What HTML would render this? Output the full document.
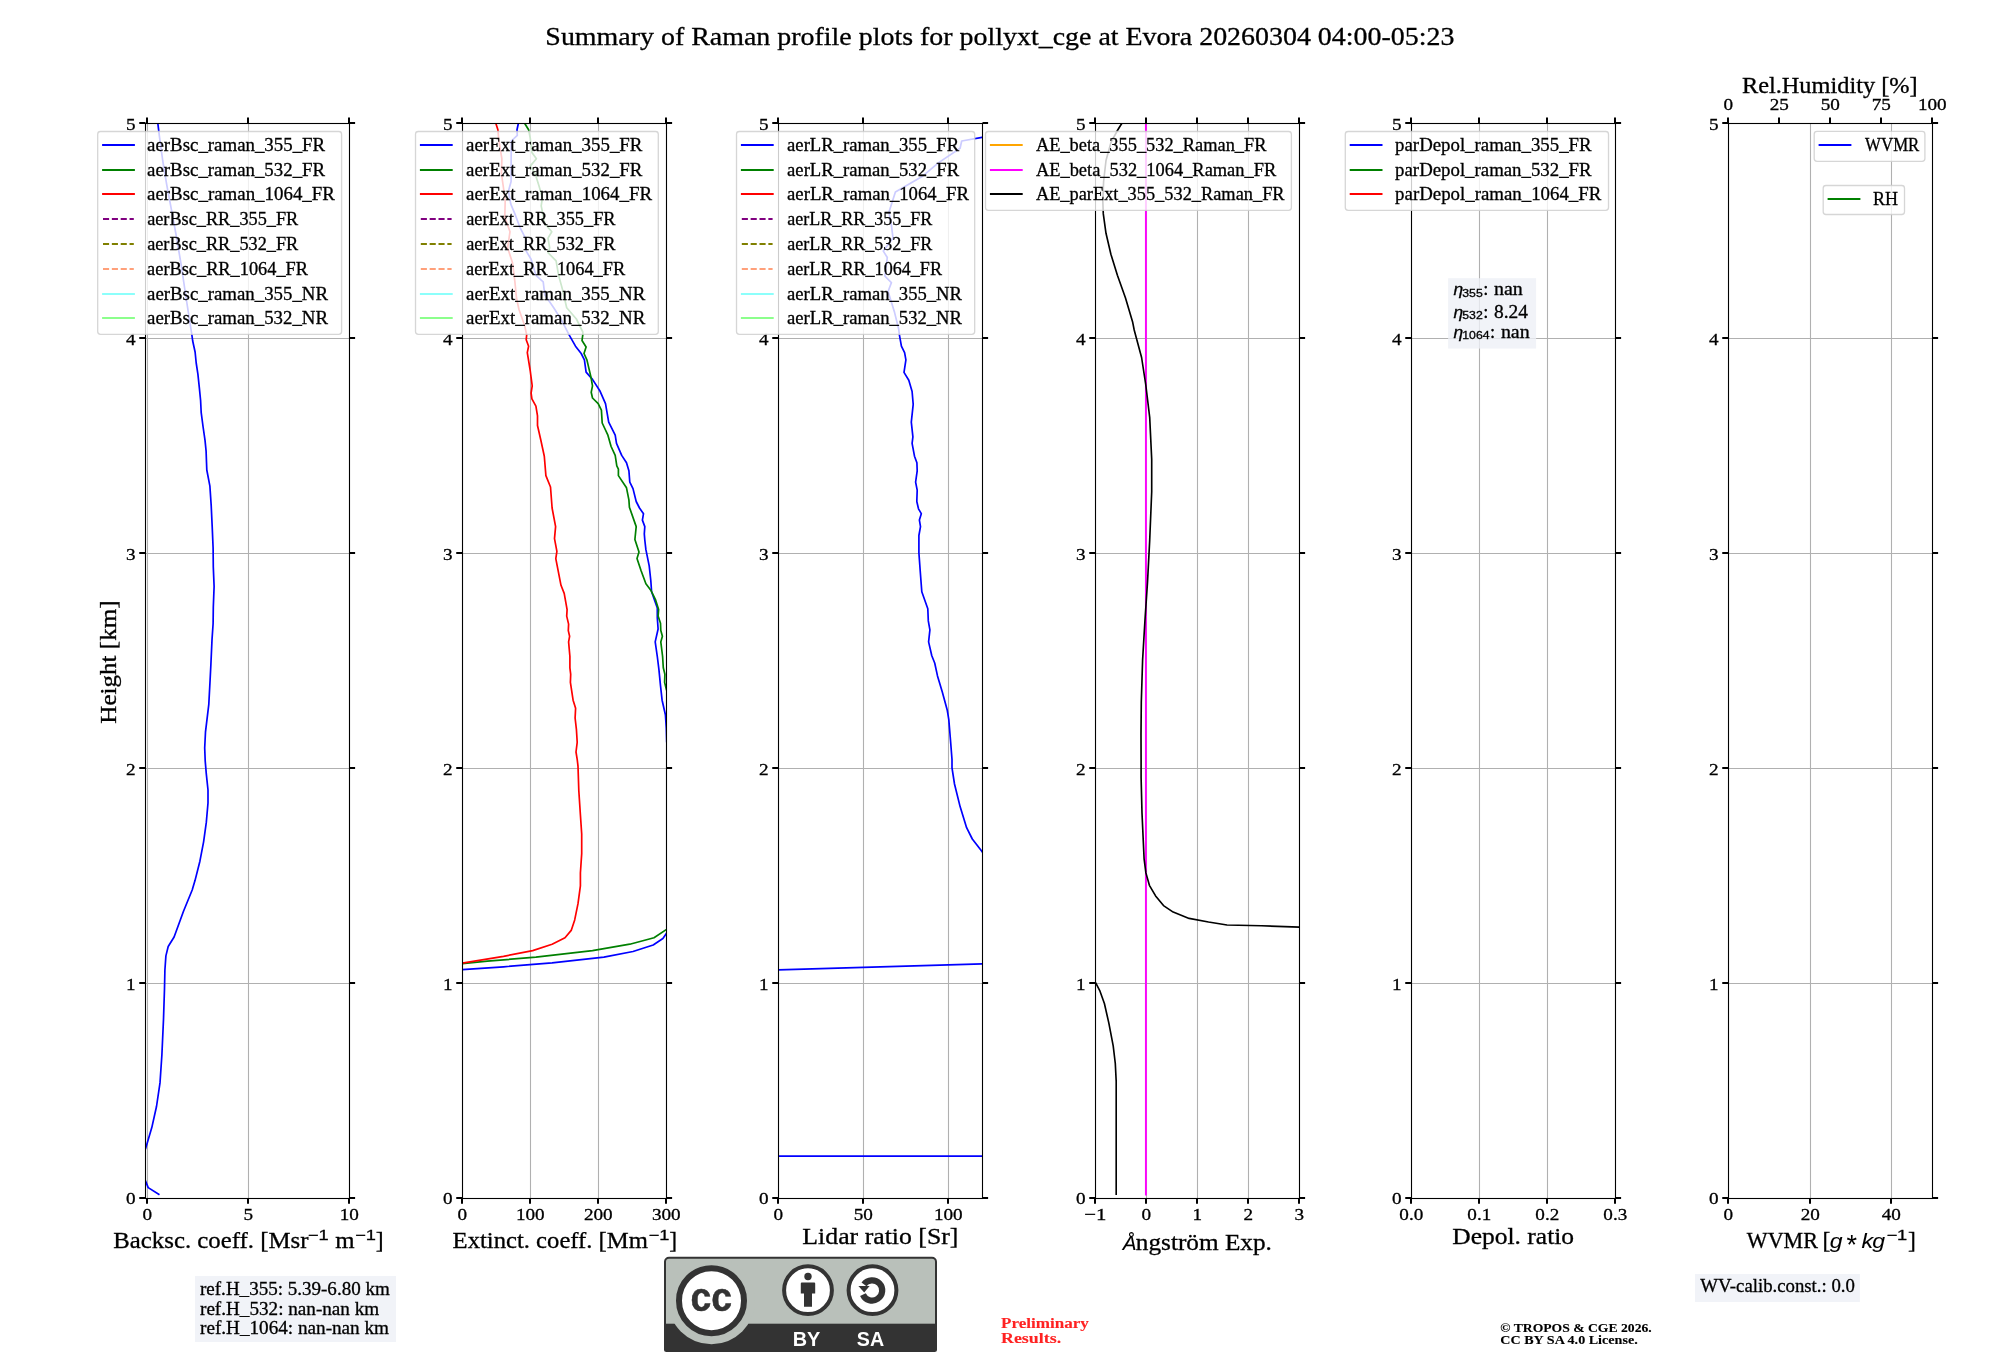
<!DOCTYPE html>
<html><head><meta charset="utf-8"><title>Raman profile summary</title>
<style>html,body{margin:0;padding:0;background:#fff}svg text{white-space:pre}</style></head>
<body>
<svg width="2000" height="1360" viewBox="0 0 2000 1360" style="display:block;will-change:transform">
<rect width="2000" height="1360" fill="#fff"/>
<defs>
<clipPath id="c0"><rect x="145.5" y="123.5" width="204.0" height="1075.0"/></clipPath>
<clipPath id="c1"><rect x="462.5" y="123.5" width="204.0" height="1075.0"/></clipPath>
<clipPath id="c2"><rect x="778.5" y="123.5" width="204.0" height="1075.0"/></clipPath>
<clipPath id="c3"><rect x="1095.5" y="123.5" width="204.0" height="1075.0"/></clipPath>
<clipPath id="c4"><rect x="1411.5" y="123.5" width="204.0" height="1075.0"/></clipPath>
<clipPath id="c5"><rect x="1728.5" y="123.5" width="204.0" height="1075.0"/></clipPath>
</defs>
<text x="545.37" y="44.50" font-family="'Liberation Serif', serif" font-size="25.33" font-weight="normal" font-style="normal" fill="#000" stroke="#000" stroke-width="0.3" textLength="909.06" lengthAdjust="spacingAndGlyphs">Summary of Raman profile plots for pollyxt_cge at Evora 20260304 04:00-05:23</text>
<path d="M147.5,123.5 V1198.5 M248.5,123.5 V1198.5 M349.5,123.5 V1198.5 M145.5,1198.5 H349.5 M145.5,983.5 H349.5 M145.5,768.5 H349.5 M145.5,553.5 H349.5 M145.5,338.5 H349.5 M145.5,123.5 H349.5" stroke="#b0b0b0" stroke-width="1.1" fill="none" clip-path="url(#c0)"/>
<path d="M462.5,123.5 V1198.5 M530.5,123.5 V1198.5 M598.5,123.5 V1198.5 M666.5,123.5 V1198.5 M462.5,1198.5 H666.5 M462.5,983.5 H666.5 M462.5,768.5 H666.5 M462.5,553.5 H666.5 M462.5,338.5 H666.5 M462.5,123.5 H666.5" stroke="#b0b0b0" stroke-width="1.1" fill="none" clip-path="url(#c1)"/>
<path d="M778.5,123.5 V1198.5 M863.5,123.5 V1198.5 M948.5,123.5 V1198.5 M778.5,1198.5 H982.5 M778.5,983.5 H982.5 M778.5,768.5 H982.5 M778.5,553.5 H982.5 M778.5,338.5 H982.5 M778.5,123.5 H982.5" stroke="#b0b0b0" stroke-width="1.1" fill="none" clip-path="url(#c2)"/>
<path d="M1095.5,123.5 V1198.5 M1146.5,123.5 V1198.5 M1197.5,123.5 V1198.5 M1248.5,123.5 V1198.5 M1299.5,123.5 V1198.5 M1095.5,1198.5 H1299.5 M1095.5,983.5 H1299.5 M1095.5,768.5 H1299.5 M1095.5,553.5 H1299.5 M1095.5,338.5 H1299.5 M1095.5,123.5 H1299.5" stroke="#b0b0b0" stroke-width="1.1" fill="none" clip-path="url(#c3)"/>
<path d="M1411.5,123.5 V1198.5 M1479.5,123.5 V1198.5 M1547.5,123.5 V1198.5 M1615.5,123.5 V1198.5 M1411.5,1198.5 H1615.5 M1411.5,983.5 H1615.5 M1411.5,768.5 H1615.5 M1411.5,553.5 H1615.5 M1411.5,338.5 H1615.5 M1411.5,123.5 H1615.5" stroke="#b0b0b0" stroke-width="1.1" fill="none" clip-path="url(#c4)"/>
<path d="M1728.5,123.5 V1198.5 M1810.5,123.5 V1198.5 M1891.5,123.5 V1198.5 M1728.5,1198.5 H1932.5 M1728.5,983.5 H1932.5 M1728.5,768.5 H1932.5 M1728.5,553.5 H1932.5 M1728.5,338.5 H1932.5 M1728.5,123.5 H1932.5" stroke="#b0b0b0" stroke-width="1.1" fill="none" clip-path="url(#c5)"/>
<path d="M157.8,123.2 L159.4,136.2 L162.7,160.5 L166.7,184.7 L171.6,210.6 L176.4,236.5 L181.3,265.6 L186.1,298.0 L191.8,334.4 L192.7,341.0 L195.1,352.0 L196.2,363.0 L197.9,374.1 L199.3,387.3 L200.6,400.5 L201.2,412.7 L203.1,427.0 L205.0,440.2 L206.1,451.2 L206.5,462.3 L206.8,470.0 L209.9,486.2 L211.2,505.6 L212.2,526.6 L213.1,547.7 L213.3,567.1 L214.1,586.5 L213.3,607.5 L213.1,623.7 L212.0,639.9 L210.9,664.2 L210.1,680.0 L208.8,704.3 L205.5,731.8 L204.7,748.0 L205.2,760.9 L206.3,773.9 L208.0,790.0 L208.0,803.0 L206.3,822.4 L203.6,841.8 L199.9,861.2 L195.0,880.6 L192.2,890.0 L183.5,911.2 L174.1,937.0 L168.2,946.5 L165.9,955.9 L164.9,970.0 L164.5,988.8 L163.5,1019.4 L161.9,1054.7 L160.0,1082.9 L156.5,1106.5 L151.8,1127.6 L145.9,1147.6 L141.0,1160.0" fill="none" stroke="#0000ff" stroke-width="1.7" stroke-linejoin="round" clip-path="url(#c0)"/>
<path d="M141.0,1170.0 L145.9,1181.8 L148.2,1187.6 L159.5,1194.7" fill="none" stroke="#0000ff" stroke-width="1.7" stroke-linejoin="round" clip-path="url(#c0)"/>
<path d="M518.4,123.2 L517.0,129.7 L517.3,135.4 L511.3,141.0 L511.1,168.5 L511.1,181.5 L508.4,191.2 L510.8,204.1 L514.9,213.9 L519.7,226.8 L526.2,239.7 L526.2,251.1 L531.1,259.2 L535.9,275.3 L543.2,281.8 L544.8,294.8 L553.7,307.7 L561.8,320.6 L569.1,334.9 L575.5,346.2 L581.2,353.5 L584.4,359.9 L586.1,372.1 L592.5,379.4 L599.8,390.7 L605.5,403.6 L608.7,422.2 L615.2,435.2 L616.5,443.3 L621.7,455.4 L626.5,462.7 L628.9,470.8 L629.8,482.1 L633.0,488.6 L636.2,501.5 L639.5,508.0 L643.5,513.7 L642.4,520.1 L644.8,526.6 L644.3,533.9 L644.8,540.0 L645.9,549.7 L649.2,565.9 L650.8,580.5 L651.6,591.8 L657.3,608.0 L657.3,617.7 L658.1,629.0 L655.2,641.9 L657.3,656.5 L658.9,669.4 L660.5,685.6 L662.1,700.2 L665.4,714.8 L666.3,728.0 L666.7,742.0 L668.5,748.0 L672.0,760.0" fill="none" stroke="#0000ff" stroke-width="1.7" stroke-linejoin="round" clip-path="url(#c1)"/>
<path d="M672.0,925.0 L666.2,933.7 L662.9,938.5 L653.2,945.0 L633.0,951.5 L603.9,957.1 L552.1,962.8 L503.5,966.8 L462.3,969.7" fill="none" stroke="#0000ff" stroke-width="1.7" stroke-linejoin="round" clip-path="url(#c1)"/>
<path d="M524.6,123.2 L528.6,129.7 L530.2,137.8 L531.9,152.4 L536.4,158.8 L530.2,166.1 L535.1,173.4 L539.1,186.3 L542.4,197.7 L541.2,205.8 L544.8,223.6 L551.8,231.7 L548.0,238.1 L549.7,247.8 L548.0,252.7 L556.1,260.8 L558.6,275.3 L562.6,289.9 L566.7,307.7 L576.4,319.0 L582.8,332.0 L582.8,334.9 L582.0,340.5 L586.1,347.0 L584.0,353.5 L586.9,359.9 L590.9,376.9 L592.5,385.8 L591.2,392.3 L592.5,398.0 L598.2,403.6 L601.4,410.1 L602.2,423.0 L607.9,435.2 L611.1,446.5 L615.2,455.4 L616.8,465.9 L618.4,469.2 L618.4,475.6 L626.5,487.8 L628.9,499.9 L629.4,507.2 L636.2,526.6 L634.9,539.5 L639.0,552.1 L637.0,558.6 L641.1,570.7 L645.9,583.7 L650.8,590.2 L655.6,599.9 L658.6,609.6 L658.1,616.1 L660.5,623.3 L660.8,630.6 L662.4,636.3 L660.8,641.9 L662.6,656.5 L663.3,667.8 L664.9,674.3 L664.6,682.4 L666.2,688.9 L670.0,700.0" fill="none" stroke="#008000" stroke-width="1.7" stroke-linejoin="round" clip-path="url(#c1)"/>
<path d="M672.0,926.0 L666.2,929.6 L654.0,937.7 L629.8,944.2 L592.5,950.6 L535.9,957.1 L487.4,961.2 L462.3,963.6" fill="none" stroke="#008000" stroke-width="1.7" stroke-linejoin="round" clip-path="url(#c1)"/>
<path d="M495.8,123.2 L497.9,129.7 L498.7,139.4 L501.9,158.8 L501.4,173.4 L503.5,188.0 L505.2,200.9 L504.8,217.1 L510.0,231.7 L507.6,247.8 L512.4,262.4 L514.9,281.8 L516.5,298.0 L518.9,309.3 L524.6,325.5 L526.7,334.9 L526.2,339.7 L528.6,346.2 L527.3,352.7 L530.2,370.5 L532.2,385.8 L531.1,393.1 L531.9,398.8 L535.9,406.1 L537.5,415.8 L537.5,425.5 L540.8,440.0 L544.3,456.2 L545.9,475.6 L550.5,487.0 L552.1,508.0 L555.6,526.6 L554.5,538.7 L556.9,551.3 L555.8,558.6 L561.0,585.3 L564.2,593.4 L567.1,609.6 L566.7,616.1 L568.6,624.1 L568.3,630.6 L569.6,636.3 L568.6,641.9 L569.9,656.5 L569.9,667.8 L570.7,674.3 L570.4,682.4 L573.1,700.2 L575.6,708.3 L575.1,718.0 L576.4,729.3 L577.2,742.3 L576.0,752.0 L577.2,759.3 L578.0,766.2 L578.8,790.5 L580.4,814.7 L581.7,834.1 L581.7,853.6 L580.4,873.0 L580.4,885.9 L578.0,903.7 L574.7,919.9 L571.2,930.4 L565.0,937.7 L552.1,944.2 L532.7,950.6 L503.5,956.3 L462.3,963.1" fill="none" stroke="#ff0000" stroke-width="1.7" stroke-linejoin="round" clip-path="url(#c1)"/>
<path d="M990.0,136.0 L982.0,137.3 L961.7,141.0 L960.1,148.3 L938.3,162.9 L922.1,176.6 L895.4,192.0 L888.9,212.2 L891.4,225.2 L893.0,238.1 L883.3,251.1 L887.3,257.5 L884.9,276.1 L891.4,282.6 L888.1,291.5 L894.6,312.6 L898.6,328.7 L899.4,334.9 L901.4,346.2 L904.6,352.7 L905.9,359.9 L904.0,372.4 L908.8,380.2 L912.1,391.5 L913.2,404.4 L911.3,422.2 L912.9,436.8 L912.1,443.3 L914.5,456.2 L916.9,462.7 L917.2,470.8 L915.6,482.1 L917.2,490.2 L916.8,501.5 L918.5,508.8 L921.3,513.7 L919.4,520.1 L920.5,526.6 L918.9,535.5 L918.9,552.9 L920.2,570.7 L921.8,591.8 L927.8,608.8 L928.3,620.9 L929.9,629.8 L928.6,641.9 L931.8,655.7 L934.7,663.0 L937.5,675.9 L942.3,692.1 L947.2,709.9 L948.8,719.6 L950.4,739.0 L952.0,759.5 L952.0,767.8 L954.5,784.0 L960.1,806.6 L966.6,827.7 L972.3,839.0 L982.0,851.6 L990.0,861.0" fill="none" stroke="#0000ff" stroke-width="1.7" stroke-linejoin="round" clip-path="url(#c2)"/>
<path d="M990.0,963.7 L982.5,963.9 L778.3,969.8" fill="none" stroke="#0000ff" stroke-width="1.7" stroke-linejoin="round" clip-path="url(#c2)"/>
<path d="M778.3,1156.1 L982.5,1156.1" fill="none" stroke="#0000ff" stroke-width="1.7" stroke-linejoin="round" clip-path="url(#c2)"/>
<path d="M1145.9,123.2 L1145.9,1195.5" fill="none" stroke="#ff00ff" stroke-width="1.9" stroke-linejoin="round" clip-path="url(#c3)"/>
<path d="M1121.9,123.2 L1117.4,130.5 L1110.9,142.7 L1106.0,160.5 L1103.6,181.5 L1102.8,200.9 L1103.3,213.9 L1106.0,233.3 L1110.9,254.3 L1117.4,275.3 L1125.5,298.0 L1132.7,322.3 L1134.2,330.0 L1141.6,357.5 L1145.8,385.0 L1149.7,417.4 L1151.7,459.4 L1151.7,491.8 L1149.7,540.4 L1147.5,582.4 L1144.9,621.3 L1142.6,660.1 L1141.3,702.2 L1141.0,734.5 L1141.1,760.0 L1141.1,777.6 L1142.0,812.9 L1143.2,839.4 L1144.1,858.8 L1145.9,872.9 L1149.4,885.3 L1155.6,895.9 L1163.5,905.6 L1173.2,912.1 L1189.1,918.4 L1208.5,922.0 L1227.0,925.0 L1261.4,925.8 L1299.4,927.1 L1310.0,927.4" fill="none" stroke="#000" stroke-width="1.65" stroke-linejoin="round" clip-path="url(#c3)"/>
<path d="M1095.6,982.7 L1100.0,991.2 L1104.4,1003.5 L1108.8,1022.9 L1113.2,1045.9 L1115.3,1063.5 L1116.2,1081.2 L1116.2,1194.9" fill="none" stroke="#000" stroke-width="1.65" stroke-linejoin="round" clip-path="url(#c3)"/>
<rect x="145.5" y="123.5" width="204.0" height="1075.0" fill="none" stroke="#000" stroke-width="1.1"/>
<path d="M147.0,1198.5 v5.3 M147.0,123.5 v-6.1 M248.0,1198.5 v5.3 M248.0,123.5 v-6.1 M349.0,1198.5 v5.3 M349.0,123.5 v-6.1 M145.5,1198.0 h-6.25 M349.5,1198.0 h5.6 M145.5,983.0 h-6.25 M349.5,983.0 h5.6 M145.5,768.0 h-6.25 M349.5,768.0 h5.6 M145.5,553.0 h-6.25 M349.5,553.0 h5.6 M145.5,338.0 h-6.25 M349.5,338.0 h5.6 M145.5,123.0 h-6.25 M349.5,123.0 h5.6" stroke="#000" stroke-width="2.0" fill="none"/>
<text x="142.51" y="1219.90" font-family="'Liberation Serif', serif" font-size="17.42" font-weight="normal" font-style="normal" fill="#000" stroke="#000" stroke-width="0.3" textLength="9.58" lengthAdjust="spacingAndGlyphs">0</text>
<text x="243.51" y="1219.90" font-family="'Liberation Serif', serif" font-size="17.42" font-weight="normal" font-style="normal" fill="#000" stroke="#000" stroke-width="0.3" textLength="9.58" lengthAdjust="spacingAndGlyphs">5</text>
<text x="339.72" y="1219.90" font-family="'Liberation Serif', serif" font-size="17.42" font-weight="normal" font-style="normal" fill="#000" stroke="#000" stroke-width="0.3" textLength="19.15" lengthAdjust="spacingAndGlyphs">10</text>
<text x="125.92" y="1203.90" font-family="'Liberation Serif', serif" font-size="17.42" font-weight="normal" font-style="normal" fill="#000" stroke="#000" stroke-width="0.3" textLength="9.58" lengthAdjust="spacingAndGlyphs">0</text>
<text x="125.92" y="989.50" font-family="'Liberation Serif', serif" font-size="17.42" font-weight="normal" font-style="normal" fill="#000" stroke="#000" stroke-width="0.3" textLength="9.58" lengthAdjust="spacingAndGlyphs">1</text>
<text x="125.92" y="774.50" font-family="'Liberation Serif', serif" font-size="17.42" font-weight="normal" font-style="normal" fill="#000" stroke="#000" stroke-width="0.3" textLength="9.58" lengthAdjust="spacingAndGlyphs">2</text>
<text x="125.92" y="559.50" font-family="'Liberation Serif', serif" font-size="17.42" font-weight="normal" font-style="normal" fill="#000" stroke="#000" stroke-width="0.3" textLength="9.58" lengthAdjust="spacingAndGlyphs">3</text>
<text x="125.92" y="344.50" font-family="'Liberation Serif', serif" font-size="17.42" font-weight="normal" font-style="normal" fill="#000" stroke="#000" stroke-width="0.3" textLength="9.58" lengthAdjust="spacingAndGlyphs">4</text>
<text x="125.92" y="130.00" font-family="'Liberation Serif', serif" font-size="17.42" font-weight="normal" font-style="normal" fill="#000" stroke="#000" stroke-width="0.3" textLength="9.58" lengthAdjust="spacingAndGlyphs">5</text>
<rect x="462.5" y="123.5" width="204.0" height="1075.0" fill="none" stroke="#000" stroke-width="1.1"/>
<path d="M462.0,1198.5 v5.3 M462.0,123.5 v-6.1 M530.0,1198.5 v5.3 M530.0,123.5 v-6.1 M598.0,1198.5 v5.3 M598.0,123.5 v-6.1 M666.0,1198.5 v5.3 M666.0,123.5 v-6.1 M462.5,1198.0 h-6.25 M666.5,1198.0 h5.6 M462.5,983.0 h-6.25 M666.5,983.0 h5.6 M462.5,768.0 h-6.25 M666.5,768.0 h5.6 M462.5,553.0 h-6.25 M666.5,553.0 h5.6 M462.5,338.0 h-6.25 M666.5,338.0 h5.6 M462.5,123.0 h-6.25 M666.5,123.0 h5.6" stroke="#000" stroke-width="2.0" fill="none"/>
<text x="457.51" y="1219.90" font-family="'Liberation Serif', serif" font-size="17.42" font-weight="normal" font-style="normal" fill="#000" stroke="#000" stroke-width="0.3" textLength="9.58" lengthAdjust="spacingAndGlyphs">0</text>
<text x="515.94" y="1219.90" font-family="'Liberation Serif', serif" font-size="17.42" font-weight="normal" font-style="normal" fill="#000" stroke="#000" stroke-width="0.3" textLength="28.73" lengthAdjust="spacingAndGlyphs">100</text>
<text x="583.94" y="1219.90" font-family="'Liberation Serif', serif" font-size="17.42" font-weight="normal" font-style="normal" fill="#000" stroke="#000" stroke-width="0.3" textLength="28.73" lengthAdjust="spacingAndGlyphs">200</text>
<text x="651.94" y="1219.90" font-family="'Liberation Serif', serif" font-size="17.42" font-weight="normal" font-style="normal" fill="#000" stroke="#000" stroke-width="0.3" textLength="28.73" lengthAdjust="spacingAndGlyphs">300</text>
<text x="442.92" y="1203.90" font-family="'Liberation Serif', serif" font-size="17.42" font-weight="normal" font-style="normal" fill="#000" stroke="#000" stroke-width="0.3" textLength="9.58" lengthAdjust="spacingAndGlyphs">0</text>
<text x="442.92" y="989.50" font-family="'Liberation Serif', serif" font-size="17.42" font-weight="normal" font-style="normal" fill="#000" stroke="#000" stroke-width="0.3" textLength="9.58" lengthAdjust="spacingAndGlyphs">1</text>
<text x="442.92" y="774.50" font-family="'Liberation Serif', serif" font-size="17.42" font-weight="normal" font-style="normal" fill="#000" stroke="#000" stroke-width="0.3" textLength="9.58" lengthAdjust="spacingAndGlyphs">2</text>
<text x="442.92" y="559.50" font-family="'Liberation Serif', serif" font-size="17.42" font-weight="normal" font-style="normal" fill="#000" stroke="#000" stroke-width="0.3" textLength="9.58" lengthAdjust="spacingAndGlyphs">3</text>
<text x="442.92" y="344.50" font-family="'Liberation Serif', serif" font-size="17.42" font-weight="normal" font-style="normal" fill="#000" stroke="#000" stroke-width="0.3" textLength="9.58" lengthAdjust="spacingAndGlyphs">4</text>
<text x="442.92" y="130.00" font-family="'Liberation Serif', serif" font-size="17.42" font-weight="normal" font-style="normal" fill="#000" stroke="#000" stroke-width="0.3" textLength="9.58" lengthAdjust="spacingAndGlyphs">5</text>
<rect x="778.5" y="123.5" width="204.0" height="1075.0" fill="none" stroke="#000" stroke-width="1.1"/>
<path d="M778.0,1198.5 v5.3 M778.0,123.5 v-6.1 M863.0,1198.5 v5.3 M863.0,123.5 v-6.1 M948.0,1198.5 v5.3 M948.0,123.5 v-6.1 M778.5,1198.0 h-6.25 M982.5,1198.0 h5.6 M778.5,983.0 h-6.25 M982.5,983.0 h5.6 M778.5,768.0 h-6.25 M982.5,768.0 h5.6 M778.5,553.0 h-6.25 M982.5,553.0 h5.6 M778.5,338.0 h-6.25 M982.5,338.0 h5.6 M778.5,123.0 h-6.25 M982.5,123.0 h5.6" stroke="#000" stroke-width="2.0" fill="none"/>
<text x="773.51" y="1219.90" font-family="'Liberation Serif', serif" font-size="17.42" font-weight="normal" font-style="normal" fill="#000" stroke="#000" stroke-width="0.3" textLength="9.58" lengthAdjust="spacingAndGlyphs">0</text>
<text x="853.72" y="1219.90" font-family="'Liberation Serif', serif" font-size="17.42" font-weight="normal" font-style="normal" fill="#000" stroke="#000" stroke-width="0.3" textLength="19.15" lengthAdjust="spacingAndGlyphs">50</text>
<text x="933.94" y="1219.90" font-family="'Liberation Serif', serif" font-size="17.42" font-weight="normal" font-style="normal" fill="#000" stroke="#000" stroke-width="0.3" textLength="28.73" lengthAdjust="spacingAndGlyphs">100</text>
<text x="758.92" y="1203.90" font-family="'Liberation Serif', serif" font-size="17.42" font-weight="normal" font-style="normal" fill="#000" stroke="#000" stroke-width="0.3" textLength="9.58" lengthAdjust="spacingAndGlyphs">0</text>
<text x="758.92" y="989.50" font-family="'Liberation Serif', serif" font-size="17.42" font-weight="normal" font-style="normal" fill="#000" stroke="#000" stroke-width="0.3" textLength="9.58" lengthAdjust="spacingAndGlyphs">1</text>
<text x="758.92" y="774.50" font-family="'Liberation Serif', serif" font-size="17.42" font-weight="normal" font-style="normal" fill="#000" stroke="#000" stroke-width="0.3" textLength="9.58" lengthAdjust="spacingAndGlyphs">2</text>
<text x="758.92" y="559.50" font-family="'Liberation Serif', serif" font-size="17.42" font-weight="normal" font-style="normal" fill="#000" stroke="#000" stroke-width="0.3" textLength="9.58" lengthAdjust="spacingAndGlyphs">3</text>
<text x="758.92" y="344.50" font-family="'Liberation Serif', serif" font-size="17.42" font-weight="normal" font-style="normal" fill="#000" stroke="#000" stroke-width="0.3" textLength="9.58" lengthAdjust="spacingAndGlyphs">4</text>
<text x="758.92" y="130.00" font-family="'Liberation Serif', serif" font-size="17.42" font-weight="normal" font-style="normal" fill="#000" stroke="#000" stroke-width="0.3" textLength="9.58" lengthAdjust="spacingAndGlyphs">5</text>
<rect x="1095.5" y="123.5" width="204.0" height="1075.0" fill="none" stroke="#000" stroke-width="1.1"/>
<path d="M1095.0,1198.5 v5.3 M1095.0,123.5 v-6.1 M1146.0,1198.5 v5.3 M1146.0,123.5 v-6.1 M1197.0,1198.5 v5.3 M1197.0,123.5 v-6.1 M1248.0,1198.5 v5.3 M1248.0,123.5 v-6.1 M1299.0,1198.5 v5.3 M1299.0,123.5 v-6.1 M1095.5,1198.0 h-6.25 M1299.5,1198.0 h5.6 M1095.5,983.0 h-6.25 M1299.5,983.0 h5.6 M1095.5,768.0 h-6.25 M1299.5,768.0 h5.6 M1095.5,553.0 h-6.25 M1299.5,553.0 h5.6 M1095.5,338.0 h-6.25 M1299.5,338.0 h5.6 M1095.5,123.0 h-6.25 M1299.5,123.0 h5.6" stroke="#000" stroke-width="2.0" fill="none"/>
<text x="1084.21" y="1219.90" font-family="'Liberation Serif', serif" font-size="17.42" font-weight="normal" font-style="normal" fill="#000" stroke="#000" stroke-width="0.3" textLength="22.19" lengthAdjust="spacingAndGlyphs">−1</text>
<text x="1141.51" y="1219.90" font-family="'Liberation Serif', serif" font-size="17.42" font-weight="normal" font-style="normal" fill="#000" stroke="#000" stroke-width="0.3" textLength="9.58" lengthAdjust="spacingAndGlyphs">0</text>
<text x="1192.51" y="1219.90" font-family="'Liberation Serif', serif" font-size="17.42" font-weight="normal" font-style="normal" fill="#000" stroke="#000" stroke-width="0.3" textLength="9.58" lengthAdjust="spacingAndGlyphs">1</text>
<text x="1243.51" y="1219.90" font-family="'Liberation Serif', serif" font-size="17.42" font-weight="normal" font-style="normal" fill="#000" stroke="#000" stroke-width="0.3" textLength="9.58" lengthAdjust="spacingAndGlyphs">2</text>
<text x="1294.51" y="1219.90" font-family="'Liberation Serif', serif" font-size="17.42" font-weight="normal" font-style="normal" fill="#000" stroke="#000" stroke-width="0.3" textLength="9.58" lengthAdjust="spacingAndGlyphs">3</text>
<text x="1075.92" y="1203.90" font-family="'Liberation Serif', serif" font-size="17.42" font-weight="normal" font-style="normal" fill="#000" stroke="#000" stroke-width="0.3" textLength="9.58" lengthAdjust="spacingAndGlyphs">0</text>
<text x="1075.92" y="989.50" font-family="'Liberation Serif', serif" font-size="17.42" font-weight="normal" font-style="normal" fill="#000" stroke="#000" stroke-width="0.3" textLength="9.58" lengthAdjust="spacingAndGlyphs">1</text>
<text x="1075.92" y="774.50" font-family="'Liberation Serif', serif" font-size="17.42" font-weight="normal" font-style="normal" fill="#000" stroke="#000" stroke-width="0.3" textLength="9.58" lengthAdjust="spacingAndGlyphs">2</text>
<text x="1075.92" y="559.50" font-family="'Liberation Serif', serif" font-size="17.42" font-weight="normal" font-style="normal" fill="#000" stroke="#000" stroke-width="0.3" textLength="9.58" lengthAdjust="spacingAndGlyphs">3</text>
<text x="1075.92" y="344.50" font-family="'Liberation Serif', serif" font-size="17.42" font-weight="normal" font-style="normal" fill="#000" stroke="#000" stroke-width="0.3" textLength="9.58" lengthAdjust="spacingAndGlyphs">4</text>
<text x="1075.92" y="130.00" font-family="'Liberation Serif', serif" font-size="17.42" font-weight="normal" font-style="normal" fill="#000" stroke="#000" stroke-width="0.3" textLength="9.58" lengthAdjust="spacingAndGlyphs">5</text>
<rect x="1411.5" y="123.5" width="204.0" height="1075.0" fill="none" stroke="#000" stroke-width="1.1"/>
<path d="M1411.0,1198.5 v5.3 M1411.0,123.5 v-6.1 M1479.0,1198.5 v5.3 M1479.0,123.5 v-6.1 M1547.0,1198.5 v5.3 M1547.0,123.5 v-6.1 M1615.0,1198.5 v5.3 M1615.0,123.5 v-6.1 M1411.5,1198.0 h-6.25 M1615.5,1198.0 h5.6 M1411.5,983.0 h-6.25 M1615.5,983.0 h5.6 M1411.5,768.0 h-6.25 M1615.5,768.0 h5.6 M1411.5,553.0 h-6.25 M1615.5,553.0 h5.6 M1411.5,338.0 h-6.25 M1615.5,338.0 h5.6 M1411.5,123.0 h-6.25 M1615.5,123.0 h5.6" stroke="#000" stroke-width="2.0" fill="none"/>
<text x="1399.33" y="1219.90" font-family="'Liberation Serif', serif" font-size="17.42" font-weight="normal" font-style="normal" fill="#000" stroke="#000" stroke-width="0.3" textLength="23.94" lengthAdjust="spacingAndGlyphs">0.0</text>
<text x="1467.33" y="1219.90" font-family="'Liberation Serif', serif" font-size="17.42" font-weight="normal" font-style="normal" fill="#000" stroke="#000" stroke-width="0.3" textLength="23.94" lengthAdjust="spacingAndGlyphs">0.1</text>
<text x="1535.33" y="1219.90" font-family="'Liberation Serif', serif" font-size="17.42" font-weight="normal" font-style="normal" fill="#000" stroke="#000" stroke-width="0.3" textLength="23.94" lengthAdjust="spacingAndGlyphs">0.2</text>
<text x="1603.33" y="1219.90" font-family="'Liberation Serif', serif" font-size="17.42" font-weight="normal" font-style="normal" fill="#000" stroke="#000" stroke-width="0.3" textLength="23.94" lengthAdjust="spacingAndGlyphs">0.3</text>
<text x="1391.92" y="1203.90" font-family="'Liberation Serif', serif" font-size="17.42" font-weight="normal" font-style="normal" fill="#000" stroke="#000" stroke-width="0.3" textLength="9.58" lengthAdjust="spacingAndGlyphs">0</text>
<text x="1391.92" y="989.50" font-family="'Liberation Serif', serif" font-size="17.42" font-weight="normal" font-style="normal" fill="#000" stroke="#000" stroke-width="0.3" textLength="9.58" lengthAdjust="spacingAndGlyphs">1</text>
<text x="1391.92" y="774.50" font-family="'Liberation Serif', serif" font-size="17.42" font-weight="normal" font-style="normal" fill="#000" stroke="#000" stroke-width="0.3" textLength="9.58" lengthAdjust="spacingAndGlyphs">2</text>
<text x="1391.92" y="559.50" font-family="'Liberation Serif', serif" font-size="17.42" font-weight="normal" font-style="normal" fill="#000" stroke="#000" stroke-width="0.3" textLength="9.58" lengthAdjust="spacingAndGlyphs">3</text>
<text x="1391.92" y="344.50" font-family="'Liberation Serif', serif" font-size="17.42" font-weight="normal" font-style="normal" fill="#000" stroke="#000" stroke-width="0.3" textLength="9.58" lengthAdjust="spacingAndGlyphs">4</text>
<text x="1391.92" y="130.00" font-family="'Liberation Serif', serif" font-size="17.42" font-weight="normal" font-style="normal" fill="#000" stroke="#000" stroke-width="0.3" textLength="9.58" lengthAdjust="spacingAndGlyphs">5</text>
<rect x="1728.5" y="123.5" width="204.0" height="1075.0" fill="none" stroke="#000" stroke-width="1.1"/>
<path d="M1728.0,1198.5 v5.3 M1810.0,1198.5 v5.3 M1891.0,1198.5 v5.3 M1728.0,123.5 v-6.1 M1779.0,123.5 v-6.1 M1830.0,123.5 v-6.1 M1881.0,123.5 v-6.1 M1932.0,123.5 v-6.1 M1728.5,1198.0 h-6.25 M1932.5,1198.0 h5.6 M1728.5,983.0 h-6.25 M1932.5,983.0 h5.6 M1728.5,768.0 h-6.25 M1932.5,768.0 h5.6 M1728.5,553.0 h-6.25 M1932.5,553.0 h5.6 M1728.5,338.0 h-6.25 M1932.5,338.0 h5.6 M1728.5,123.0 h-6.25 M1932.5,123.0 h5.6" stroke="#000" stroke-width="2.0" fill="none"/>
<text x="1723.51" y="1219.90" font-family="'Liberation Serif', serif" font-size="17.42" font-weight="normal" font-style="normal" fill="#000" stroke="#000" stroke-width="0.3" textLength="9.58" lengthAdjust="spacingAndGlyphs">0</text>
<text x="1800.72" y="1219.90" font-family="'Liberation Serif', serif" font-size="17.42" font-weight="normal" font-style="normal" fill="#000" stroke="#000" stroke-width="0.3" textLength="19.15" lengthAdjust="spacingAndGlyphs">20</text>
<text x="1881.72" y="1219.90" font-family="'Liberation Serif', serif" font-size="17.42" font-weight="normal" font-style="normal" fill="#000" stroke="#000" stroke-width="0.3" textLength="19.15" lengthAdjust="spacingAndGlyphs">40</text>
<text x="1708.92" y="1203.90" font-family="'Liberation Serif', serif" font-size="17.42" font-weight="normal" font-style="normal" fill="#000" stroke="#000" stroke-width="0.3" textLength="9.58" lengthAdjust="spacingAndGlyphs">0</text>
<text x="1708.92" y="989.50" font-family="'Liberation Serif', serif" font-size="17.42" font-weight="normal" font-style="normal" fill="#000" stroke="#000" stroke-width="0.3" textLength="9.58" lengthAdjust="spacingAndGlyphs">1</text>
<text x="1708.92" y="774.50" font-family="'Liberation Serif', serif" font-size="17.42" font-weight="normal" font-style="normal" fill="#000" stroke="#000" stroke-width="0.3" textLength="9.58" lengthAdjust="spacingAndGlyphs">2</text>
<text x="1708.92" y="559.50" font-family="'Liberation Serif', serif" font-size="17.42" font-weight="normal" font-style="normal" fill="#000" stroke="#000" stroke-width="0.3" textLength="9.58" lengthAdjust="spacingAndGlyphs">3</text>
<text x="1708.92" y="344.50" font-family="'Liberation Serif', serif" font-size="17.42" font-weight="normal" font-style="normal" fill="#000" stroke="#000" stroke-width="0.3" textLength="9.58" lengthAdjust="spacingAndGlyphs">4</text>
<text x="1708.92" y="130.00" font-family="'Liberation Serif', serif" font-size="17.42" font-weight="normal" font-style="normal" fill="#000" stroke="#000" stroke-width="0.3" textLength="9.58" lengthAdjust="spacingAndGlyphs">5</text>
<text x="1723.51" y="109.80" font-family="'Liberation Serif', serif" font-size="17.42" font-weight="normal" font-style="normal" fill="#000" stroke="#000" stroke-width="0.3" textLength="9.58" lengthAdjust="spacingAndGlyphs">0</text>
<text x="1769.72" y="109.80" font-family="'Liberation Serif', serif" font-size="17.42" font-weight="normal" font-style="normal" fill="#000" stroke="#000" stroke-width="0.3" textLength="19.15" lengthAdjust="spacingAndGlyphs">25</text>
<text x="1820.72" y="109.80" font-family="'Liberation Serif', serif" font-size="17.42" font-weight="normal" font-style="normal" fill="#000" stroke="#000" stroke-width="0.3" textLength="19.15" lengthAdjust="spacingAndGlyphs">50</text>
<text x="1871.72" y="109.80" font-family="'Liberation Serif', serif" font-size="17.42" font-weight="normal" font-style="normal" fill="#000" stroke="#000" stroke-width="0.3" textLength="19.15" lengthAdjust="spacingAndGlyphs">75</text>
<text x="1917.94" y="109.80" font-family="'Liberation Serif', serif" font-size="17.42" font-weight="normal" font-style="normal" fill="#000" stroke="#000" stroke-width="0.3" textLength="28.73" lengthAdjust="spacingAndGlyphs">100</text>
<text x="1741.90" y="93.00" font-family="'Liberation Serif', serif" font-size="22.59" font-weight="normal" font-style="normal" fill="#000" stroke="#000" stroke-width="0.3" textLength="175.79" lengthAdjust="spacingAndGlyphs">Rel.Humidity [%]</text>
<rect x="97.7" y="131.5" width="243.9" height="202.8" rx="2.8" ry="2.8" fill="#fff" fill-opacity="0.8" stroke="#ccc" stroke-opacity="0.8" stroke-width="1.3"/>
<path d="M102.1,145.0 H134.9" stroke="#0000ff" stroke-width="2.1" fill="none"/>
<text x="147.07" y="151.40" font-family="'Liberation Serif', serif" font-size="18.49" font-weight="normal" font-style="normal" fill="#000" stroke="#000" stroke-width="0.3" textLength="178.10" lengthAdjust="spacingAndGlyphs">aerBsc_raman_355_FR</text>
<path d="M102.1,170.0 H134.9" stroke="#008000" stroke-width="2.1" fill="none"/>
<text x="147.07" y="176.40" font-family="'Liberation Serif', serif" font-size="18.49" font-weight="normal" font-style="normal" fill="#000" stroke="#000" stroke-width="0.3" textLength="178.10" lengthAdjust="spacingAndGlyphs">aerBsc_raman_532_FR</text>
<path d="M102.1,194.0 H134.9" stroke="#ff0000" stroke-width="2.1" fill="none"/>
<text x="147.05" y="200.40" font-family="'Liberation Serif', serif" font-size="18.49" font-weight="normal" font-style="normal" fill="#000" stroke="#000" stroke-width="0.3" textLength="187.88" lengthAdjust="spacingAndGlyphs">aerBsc_raman_1064_FR</text>
<path d="M103.0,219.0 H133.8" stroke="#800080" stroke-width="2.0" stroke-dasharray="6.1 2.75" fill="none"/>
<text x="147.15" y="225.40" font-family="'Liberation Serif', serif" font-size="18.49" font-weight="normal" font-style="normal" fill="#000" stroke="#000" stroke-width="0.3" textLength="151.11" lengthAdjust="spacingAndGlyphs">aerBsc_RR_355_FR</text>
<path d="M103.0,244.0 H133.8" stroke="#808000" stroke-width="2.0" stroke-dasharray="6.1 2.75" fill="none"/>
<text x="147.15" y="250.40" font-family="'Liberation Serif', serif" font-size="18.49" font-weight="normal" font-style="normal" fill="#000" stroke="#000" stroke-width="0.3" textLength="151.11" lengthAdjust="spacingAndGlyphs">aerBsc_RR_532_FR</text>
<path d="M103.0,269.0 H133.8" stroke="#ffa07a" stroke-width="2.0" stroke-dasharray="6.1 2.75" fill="none"/>
<text x="147.12" y="275.40" font-family="'Liberation Serif', serif" font-size="18.49" font-weight="normal" font-style="normal" fill="#000" stroke="#000" stroke-width="0.3" textLength="160.89" lengthAdjust="spacingAndGlyphs">aerBsc_RR_1064_FR</text>
<path d="M102.1,294.0 H134.9" stroke="#8cfffb" stroke-width="2.1" fill="none"/>
<text x="147.07" y="300.40" font-family="'Liberation Serif', serif" font-size="18.49" font-weight="normal" font-style="normal" fill="#000" stroke="#000" stroke-width="0.3" textLength="180.89" lengthAdjust="spacingAndGlyphs">aerBsc_raman_355_NR</text>
<path d="M102.1,318.0 H134.9" stroke="#8cff8c" stroke-width="2.1" fill="none"/>
<text x="147.07" y="324.40" font-family="'Liberation Serif', serif" font-size="18.49" font-weight="normal" font-style="normal" fill="#000" stroke="#000" stroke-width="0.3" textLength="180.89" lengthAdjust="spacingAndGlyphs">aerBsc_raman_532_NR</text>
<rect x="415.5" y="131.5" width="242.8" height="202.8" rx="2.8" ry="2.8" fill="#fff" fill-opacity="0.8" stroke="#ccc" stroke-opacity="0.8" stroke-width="1.3"/>
<path d="M419.9,145.0 H452.7" stroke="#0000ff" stroke-width="2.1" fill="none"/>
<text x="466.08" y="151.40" font-family="'Liberation Serif', serif" font-size="18.49" font-weight="normal" font-style="normal" fill="#000" stroke="#000" stroke-width="0.3" textLength="176.38" lengthAdjust="spacingAndGlyphs">aerExt_raman_355_FR</text>
<path d="M419.9,170.0 H452.7" stroke="#008000" stroke-width="2.1" fill="none"/>
<text x="466.08" y="176.40" font-family="'Liberation Serif', serif" font-size="18.49" font-weight="normal" font-style="normal" fill="#000" stroke="#000" stroke-width="0.3" textLength="176.38" lengthAdjust="spacingAndGlyphs">aerExt_raman_532_FR</text>
<path d="M419.9,194.0 H452.7" stroke="#ff0000" stroke-width="2.1" fill="none"/>
<text x="466.05" y="200.40" font-family="'Liberation Serif', serif" font-size="18.49" font-weight="normal" font-style="normal" fill="#000" stroke="#000" stroke-width="0.3" textLength="186.15" lengthAdjust="spacingAndGlyphs">aerExt_raman_1064_FR</text>
<path d="M420.8,219.0 H451.6" stroke="#800080" stroke-width="2.0" stroke-dasharray="6.1 2.75" fill="none"/>
<text x="466.15" y="225.40" font-family="'Liberation Serif', serif" font-size="18.49" font-weight="normal" font-style="normal" fill="#000" stroke="#000" stroke-width="0.3" textLength="149.39" lengthAdjust="spacingAndGlyphs">aerExt_RR_355_FR</text>
<path d="M420.8,244.0 H451.6" stroke="#808000" stroke-width="2.0" stroke-dasharray="6.1 2.75" fill="none"/>
<text x="466.15" y="250.40" font-family="'Liberation Serif', serif" font-size="18.49" font-weight="normal" font-style="normal" fill="#000" stroke="#000" stroke-width="0.3" textLength="149.39" lengthAdjust="spacingAndGlyphs">aerExt_RR_532_FR</text>
<path d="M420.8,269.0 H451.6" stroke="#ffa07a" stroke-width="2.0" stroke-dasharray="6.1 2.75" fill="none"/>
<text x="466.12" y="275.40" font-family="'Liberation Serif', serif" font-size="18.49" font-weight="normal" font-style="normal" fill="#000" stroke="#000" stroke-width="0.3" textLength="159.16" lengthAdjust="spacingAndGlyphs">aerExt_RR_1064_FR</text>
<path d="M419.9,294.0 H452.7" stroke="#8cfffb" stroke-width="2.1" fill="none"/>
<text x="466.07" y="300.40" font-family="'Liberation Serif', serif" font-size="18.49" font-weight="normal" font-style="normal" fill="#000" stroke="#000" stroke-width="0.3" textLength="179.16" lengthAdjust="spacingAndGlyphs">aerExt_raman_355_NR</text>
<path d="M419.9,318.0 H452.7" stroke="#8cff8c" stroke-width="2.1" fill="none"/>
<text x="466.07" y="324.40" font-family="'Liberation Serif', serif" font-size="18.49" font-weight="normal" font-style="normal" fill="#000" stroke="#000" stroke-width="0.3" textLength="179.16" lengthAdjust="spacingAndGlyphs">aerExt_raman_532_NR</text>
<rect x="736.5" y="131.5" width="238.2" height="202.8" rx="2.8" ry="2.8" fill="#fff" fill-opacity="0.8" stroke="#ccc" stroke-opacity="0.8" stroke-width="1.3"/>
<path d="M740.9,145.0 H773.7" stroke="#0000ff" stroke-width="2.1" fill="none"/>
<text x="787.09" y="151.40" font-family="'Liberation Serif', serif" font-size="18.49" font-weight="normal" font-style="normal" fill="#000" stroke="#000" stroke-width="0.3" textLength="172.10" lengthAdjust="spacingAndGlyphs">aerLR_raman_355_FR</text>
<path d="M740.9,170.0 H773.7" stroke="#008000" stroke-width="2.1" fill="none"/>
<text x="787.09" y="176.40" font-family="'Liberation Serif', serif" font-size="18.49" font-weight="normal" font-style="normal" fill="#000" stroke="#000" stroke-width="0.3" textLength="172.10" lengthAdjust="spacingAndGlyphs">aerLR_raman_532_FR</text>
<path d="M740.9,194.0 H773.7" stroke="#ff0000" stroke-width="2.1" fill="none"/>
<text x="787.06" y="200.40" font-family="'Liberation Serif', serif" font-size="18.49" font-weight="normal" font-style="normal" fill="#000" stroke="#000" stroke-width="0.3" textLength="181.87" lengthAdjust="spacingAndGlyphs">aerLR_raman_1064_FR</text>
<path d="M741.8,219.0 H772.6" stroke="#800080" stroke-width="2.0" stroke-dasharray="6.1 2.75" fill="none"/>
<text x="787.16" y="225.40" font-family="'Liberation Serif', serif" font-size="18.49" font-weight="normal" font-style="normal" fill="#000" stroke="#000" stroke-width="0.3" textLength="145.10" lengthAdjust="spacingAndGlyphs">aerLR_RR_355_FR</text>
<path d="M741.8,244.0 H772.6" stroke="#808000" stroke-width="2.0" stroke-dasharray="6.1 2.75" fill="none"/>
<text x="787.16" y="250.40" font-family="'Liberation Serif', serif" font-size="18.49" font-weight="normal" font-style="normal" fill="#000" stroke="#000" stroke-width="0.3" textLength="145.10" lengthAdjust="spacingAndGlyphs">aerLR_RR_532_FR</text>
<path d="M741.8,269.0 H772.6" stroke="#ffa07a" stroke-width="2.0" stroke-dasharray="6.1 2.75" fill="none"/>
<text x="787.14" y="275.40" font-family="'Liberation Serif', serif" font-size="18.49" font-weight="normal" font-style="normal" fill="#000" stroke="#000" stroke-width="0.3" textLength="154.88" lengthAdjust="spacingAndGlyphs">aerLR_RR_1064_FR</text>
<path d="M740.9,294.0 H773.7" stroke="#8cfffb" stroke-width="2.1" fill="none"/>
<text x="787.08" y="300.40" font-family="'Liberation Serif', serif" font-size="18.49" font-weight="normal" font-style="normal" fill="#000" stroke="#000" stroke-width="0.3" textLength="174.88" lengthAdjust="spacingAndGlyphs">aerLR_raman_355_NR</text>
<path d="M740.9,318.0 H773.7" stroke="#8cff8c" stroke-width="2.1" fill="none"/>
<text x="787.08" y="324.40" font-family="'Liberation Serif', serif" font-size="18.49" font-weight="normal" font-style="normal" fill="#000" stroke="#000" stroke-width="0.3" textLength="174.88" lengthAdjust="spacingAndGlyphs">aerLR_raman_532_NR</text>
<rect x="985.5" y="131.5" width="305.9" height="78.9" rx="2.8" ry="2.8" fill="#fff" fill-opacity="0.8" stroke="#ccc" stroke-opacity="0.8" stroke-width="1.3"/>
<path d="M989.9,145.0 H1022.7" stroke="#ffa500" stroke-width="2.1" fill="none"/>
<text x="1035.93" y="151.40" font-family="'Liberation Serif', serif" font-size="18.49" font-weight="normal" font-style="normal" fill="#000" stroke="#000" stroke-width="0.3" textLength="230.57" lengthAdjust="spacingAndGlyphs">AE_beta_355_532_Raman_FR</text>
<path d="M989.9,170.0 H1022.7" stroke="#ff00ff" stroke-width="2.1" fill="none"/>
<text x="1035.90" y="176.40" font-family="'Liberation Serif', serif" font-size="18.49" font-weight="normal" font-style="normal" fill="#000" stroke="#000" stroke-width="0.3" textLength="240.34" lengthAdjust="spacingAndGlyphs">AE_beta_532_1064_Raman_FR</text>
<path d="M989.9,194.0 H1022.7" stroke="#000" stroke-width="2.1" fill="none"/>
<text x="1035.88" y="200.40" font-family="'Liberation Serif', serif" font-size="18.49" font-weight="normal" font-style="normal" fill="#000" stroke="#000" stroke-width="0.3" textLength="248.70" lengthAdjust="spacingAndGlyphs">AE_parExt_355_532_Raman_FR</text>
<rect x="1345.3" y="131.5" width="263.2" height="78.9" rx="2.8" ry="2.8" fill="#fff" fill-opacity="0.8" stroke="#ccc" stroke-opacity="0.8" stroke-width="1.3"/>
<path d="M1349.7,145.0 H1382.5" stroke="#0000ff" stroke-width="2.1" fill="none"/>
<text x="1395.12" y="150.50" font-family="'Liberation Serif', serif" font-size="18.49" font-weight="normal" font-style="normal" fill="#000" stroke="#000" stroke-width="0.3" textLength="196.48" lengthAdjust="spacingAndGlyphs">parDepol_raman_355_FR</text>
<path d="M1349.7,170.0 H1382.5" stroke="#008000" stroke-width="2.1" fill="none"/>
<text x="1395.12" y="175.50" font-family="'Liberation Serif', serif" font-size="18.49" font-weight="normal" font-style="normal" fill="#000" stroke="#000" stroke-width="0.3" textLength="196.48" lengthAdjust="spacingAndGlyphs">parDepol_raman_532_FR</text>
<path d="M1349.7,194.0 H1382.5" stroke="#ff0000" stroke-width="2.1" fill="none"/>
<text x="1395.10" y="199.50" font-family="'Liberation Serif', serif" font-size="18.49" font-weight="normal" font-style="normal" fill="#000" stroke="#000" stroke-width="0.3" textLength="206.25" lengthAdjust="spacingAndGlyphs">parDepol_raman_1064_FR</text>
<rect x="1814.2" y="131.4" width="110.7" height="30.0" rx="2.8" ry="2.8" fill="#fff" fill-opacity="0.8" stroke="#ccc" stroke-opacity="0.8" stroke-width="1.3"/>
<path d="M1818.6,145.0 H1851.4" stroke="#0000ff" stroke-width="2.1" fill="none"/>
<text x="1865.11" y="150.60" font-family="'Liberation Serif', serif" font-size="18.49" font-weight="normal" font-style="normal" fill="#000" stroke="#000" stroke-width="0.3" textLength="54.19" lengthAdjust="spacingAndGlyphs">WVMR</text>
<rect x="1823.2" y="185.5" width="81.3" height="29.0" rx="2.8" ry="2.8" fill="#fff" fill-opacity="0.8" stroke="#ccc" stroke-opacity="0.8" stroke-width="1.3"/>
<path d="M1827.6,199.0 H1860.4" stroke="#008000" stroke-width="2.1" fill="none"/>
<text x="1872.99" y="204.60" font-family="'Liberation Serif', serif" font-size="18.49" font-weight="normal" font-style="normal" fill="#000" stroke="#000" stroke-width="0.3" textLength="24.97" lengthAdjust="spacingAndGlyphs">RH</text>
<text x="54.88" y="662.10" font-family="'Liberation Serif', serif" font-size="22.59" font-weight="normal" font-style="normal" fill="#000" stroke="#000" stroke-width="0.3" textLength="123.24" lengthAdjust="spacingAndGlyphs" transform="rotate(-90 116.50 662.10)">Height [km]</text>
<text x="802.38" y="1244.00" font-family="'Liberation Serif', serif" font-size="22.59" font-weight="normal" font-style="normal" fill="#000" stroke="#000" stroke-width="0.3" textLength="156.05" lengthAdjust="spacingAndGlyphs">Lidar ratio [Sr]</text>
<text x="1452.31" y="1243.90" font-family="'Liberation Serif', serif" font-size="22.59" font-weight="normal" font-style="normal" fill="#000" stroke="#000" stroke-width="0.3" textLength="121.77" lengthAdjust="spacingAndGlyphs">Depol. ratio</text>
<text x="113.30" y="1247.80" font-family="'Liberation Serif', serif" font-size="22.59" font-weight="normal" font-style="normal" fill="#000" stroke="#000" stroke-width="0.3" textLength="195.16" lengthAdjust="spacingAndGlyphs">Backsc. coeff. [Msr</text>
<text x="307.80" y="1240.20" font-family="'Liberation Sans', sans-serif" font-size="14.40" font-weight="normal" font-style="normal" fill="#000" stroke="#000" stroke-width="0.3" textLength="20.81" lengthAdjust="spacingAndGlyphs">−1</text>
<text x="329.10" y="1247.80" font-family="'Liberation Serif', serif" font-size="22.59" font-weight="normal" font-style="normal" fill="#000" stroke="#000" stroke-width="0.3" textLength="25.54" lengthAdjust="spacingAndGlyphs"> m</text>
<text x="355.00" y="1240.20" font-family="'Liberation Sans', sans-serif" font-size="14.40" font-weight="normal" font-style="normal" fill="#000" stroke="#000" stroke-width="0.3" textLength="20.81" lengthAdjust="spacingAndGlyphs">−1</text>
<text x="375.80" y="1247.80" font-family="'Liberation Serif', serif" font-size="22.59" font-weight="normal" font-style="normal" fill="#000" stroke="#000" stroke-width="0.3" textLength="7.87" lengthAdjust="spacingAndGlyphs">]</text>
<text x="452.60" y="1247.70" font-family="'Liberation Serif', serif" font-size="22.59" font-weight="normal" font-style="normal" fill="#000" stroke="#000" stroke-width="0.3" textLength="195.33" lengthAdjust="spacingAndGlyphs">Extinct. coeff. [Mm</text>
<text x="648.60" y="1240.10" font-family="'Liberation Sans', sans-serif" font-size="14.40" font-weight="normal" font-style="normal" fill="#000" stroke="#000" stroke-width="0.3" textLength="20.81" lengthAdjust="spacingAndGlyphs">−1</text>
<text x="669.20" y="1247.70" font-family="'Liberation Serif', serif" font-size="22.59" font-weight="normal" font-style="normal" fill="#000" stroke="#000" stroke-width="0.3" textLength="7.87" lengthAdjust="spacingAndGlyphs">]</text>
<text x="1122.80" y="1249.90" font-family="'Liberation Sans', sans-serif" font-size="20.57" font-weight="normal" font-style="italic" fill="#000" stroke="#000" stroke-width="0.05" textLength="13.80" lengthAdjust="spacingAndGlyphs">Å</text>
<text x="1135.85" y="1249.90" font-family="'Liberation Serif', serif" font-size="22.59" font-weight="normal" font-style="normal" fill="#000" stroke="#000" stroke-width="0.3" textLength="136.01" lengthAdjust="spacingAndGlyphs">ngström Exp.</text>
<text x="1746.80" y="1247.70" font-family="'Liberation Serif', serif" font-size="22.59" font-weight="normal" font-style="normal" fill="#000" stroke="#000" stroke-width="0.3" textLength="71.14" lengthAdjust="spacingAndGlyphs">WVMR</text>
<text x="1822.40" y="1247.70" font-family="'Liberation Serif', serif" font-size="22.59" font-weight="normal" font-style="normal" fill="#000" stroke="#000" stroke-width="0.3" textLength="7.87" lengthAdjust="spacingAndGlyphs">[</text>
<text x="1829.80" y="1247.70" font-family="'Liberation Sans', sans-serif" font-size="20.57" font-weight="normal" font-style="italic" fill="#000" stroke="#000" stroke-width="0.05" textLength="12.80" lengthAdjust="spacingAndGlyphs">g</text>
<text x="1846.6" y="1253.9" font-family="'Liberation Sans', sans-serif" font-size="27" fill="#000">*</text>
<text x="1861.50" y="1247.70" font-family="'Liberation Sans', sans-serif" font-size="20.57" font-weight="normal" font-style="italic" fill="#000" stroke="#000" stroke-width="0.05" textLength="11.68" lengthAdjust="spacingAndGlyphs">k</text>
<text x="1872.20" y="1247.70" font-family="'Liberation Sans', sans-serif" font-size="20.57" font-weight="normal" font-style="italic" fill="#000" stroke="#000" stroke-width="0.05" textLength="12.80" lengthAdjust="spacingAndGlyphs">g</text>
<text x="1886.40" y="1240.10" font-family="'Liberation Sans', sans-serif" font-size="14.40" font-weight="normal" font-style="normal" fill="#000" stroke="#000" stroke-width="0.3" textLength="20.81" lengthAdjust="spacingAndGlyphs">−1</text>
<text x="1907.90" y="1247.70" font-family="'Liberation Serif', serif" font-size="22.59" font-weight="normal" font-style="normal" fill="#000" stroke="#000" stroke-width="0.3" textLength="7.87" lengthAdjust="spacingAndGlyphs">]</text>
<rect x="195" y="1276" width="201" height="66" fill="#eef0f6" fill-opacity="0.8"/>
<text x="200.00" y="1294.90" font-family="'Liberation Serif', serif" font-size="18.17" font-weight="normal" font-style="normal" fill="#000" stroke="#000" stroke-width="0.3" textLength="189.74" lengthAdjust="spacingAndGlyphs">ref.H_355: 5.39-6.80 km</text>
<text x="200.00" y="1314.50" font-family="'Liberation Serif', serif" font-size="18.17" font-weight="normal" font-style="normal" fill="#000" stroke="#000" stroke-width="0.3" textLength="179.20" lengthAdjust="spacingAndGlyphs">ref.H_532: nan-nan km</text>
<text x="200.00" y="1334.10" font-family="'Liberation Serif', serif" font-size="18.17" font-weight="normal" font-style="normal" fill="#000" stroke="#000" stroke-width="0.3" textLength="189.00" lengthAdjust="spacingAndGlyphs">ref.H_1064: nan-nan km</text>
<rect x="1695" y="1274" width="164.9" height="28" fill="#eef0f6" fill-opacity="0.8"/>
<text x="1700.30" y="1291.90" font-family="'Liberation Serif', serif" font-size="18.17" font-weight="normal" font-style="normal" fill="#000" stroke="#000" stroke-width="0.3" textLength="154.53" lengthAdjust="spacingAndGlyphs">WV-calib.const.: 0.0</text>
<rect x="1448.1" y="278.2" width="88" height="70.4" fill="#eef0f6" fill-opacity="0.8"/>
<text x="1453.60" y="295.00" font-family="'Liberation Sans', sans-serif" font-size="15.59" font-weight="normal" font-style="italic" fill="#000" stroke="#000" stroke-width="0.3" textLength="9.68" lengthAdjust="spacingAndGlyphs">η</text>
<text x="1462.30" y="296.50" font-family="'Liberation Sans', sans-serif" font-size="10.91" font-weight="normal" font-style="normal" fill="#000" stroke="#000" stroke-width="0.3" textLength="20.42" lengthAdjust="spacingAndGlyphs">355</text>
<text x="1483.20" y="295.00" font-family="'Liberation Serif', serif" font-size="18.03" font-weight="normal" font-style="normal" fill="#000" stroke="#000" stroke-width="0.3" textLength="5.15" lengthAdjust="spacingAndGlyphs">:</text>
<text x="1494.00" y="295.00" font-family="'Liberation Serif', serif" font-size="18.03" font-weight="normal" font-style="normal" fill="#000" stroke="#000" stroke-width="0.3" textLength="28.79" lengthAdjust="spacingAndGlyphs">nan</text>
<text x="1453.60" y="317.80" font-family="'Liberation Sans', sans-serif" font-size="15.59" font-weight="normal" font-style="italic" fill="#000" stroke="#000" stroke-width="0.3" textLength="9.68" lengthAdjust="spacingAndGlyphs">η</text>
<text x="1462.30" y="319.30" font-family="'Liberation Sans', sans-serif" font-size="10.91" font-weight="normal" font-style="normal" fill="#000" stroke="#000" stroke-width="0.3" textLength="20.42" lengthAdjust="spacingAndGlyphs">532</text>
<text x="1483.20" y="317.80" font-family="'Liberation Serif', serif" font-size="18.03" font-weight="normal" font-style="normal" fill="#000" stroke="#000" stroke-width="0.3" textLength="5.15" lengthAdjust="spacingAndGlyphs">:</text>
<text x="1494.00" y="317.80" font-family="'Liberation Serif', serif" font-size="18.03" font-weight="normal" font-style="normal" fill="#000" stroke="#000" stroke-width="0.3" textLength="34.02" lengthAdjust="spacingAndGlyphs">8.24</text>
<text x="1453.60" y="337.90" font-family="'Liberation Sans', sans-serif" font-size="15.59" font-weight="normal" font-style="italic" fill="#000" stroke="#000" stroke-width="0.3" textLength="9.68" lengthAdjust="spacingAndGlyphs">η</text>
<text x="1462.30" y="339.40" font-family="'Liberation Sans', sans-serif" font-size="10.91" font-weight="normal" font-style="normal" fill="#000" stroke="#000" stroke-width="0.3" textLength="27.22" lengthAdjust="spacingAndGlyphs">1064</text>
<text x="1489.90" y="337.90" font-family="'Liberation Serif', serif" font-size="18.03" font-weight="normal" font-style="normal" fill="#000" stroke="#000" stroke-width="0.3" textLength="5.15" lengthAdjust="spacingAndGlyphs">:</text>
<text x="1500.90" y="337.90" font-family="'Liberation Serif', serif" font-size="18.03" font-weight="normal" font-style="normal" fill="#000" stroke="#000" stroke-width="0.3" textLength="28.79" lengthAdjust="spacingAndGlyphs">nan</text>
<text x="1001.00" y="1328.00" font-family="'Liberation Serif', serif" font-size="14.40" font-weight="bold" font-style="normal" fill="#ff2222" stroke="#ff2222" stroke-width="0.1" textLength="87.92" lengthAdjust="spacingAndGlyphs">Preliminary</text>
<text x="1001.00" y="1342.80" font-family="'Liberation Serif', serif" font-size="14.40" font-weight="bold" font-style="normal" fill="#ff2222" stroke="#ff2222" stroke-width="0.1" textLength="60.12" lengthAdjust="spacingAndGlyphs">Results.</text>
<text x="1500.30" y="1331.70" font-family="'Liberation Serif', serif" font-size="12.00" font-weight="bold" font-style="normal" fill="#000" stroke="#000" stroke-width="0.1" textLength="151.43" lengthAdjust="spacingAndGlyphs">© TROPOS &amp; CGE 2026.</text>
<text x="1500.30" y="1343.90" font-family="'Liberation Serif', serif" font-size="12.00" font-weight="bold" font-style="normal" fill="#000" stroke="#000" stroke-width="0.1" textLength="137.39" lengthAdjust="spacingAndGlyphs">CC BY SA 4.0 License.</text>
<g>
<clipPath id="ccb"><path d="M669,1257.8 H932 a4,4 0 0 1 4,4 V1349.5 a1.5,1.5 0 0 1 -1.5,1.5 H666.5 a1.5,1.5 0 0 1 -1.5,-1.5 V1261.8 a4,4 0 0 1 4,-4 z"/></clipPath>
<path d="M669,1257.8 H932 a4,4 0 0 1 4,4 V1349.5 a1.5,1.5 0 0 1 -1.5,1.5 H666.5 a1.5,1.5 0 0 1 -1.5,-1.5 V1261.8 a4,4 0 0 1 4,-4 z" fill="#b9c0ba"/>
<g clip-path="url(#ccb)"><rect x="665" y="1323.7" width="271" height="28" fill="#333333"/>
<circle cx="711.5" cy="1300.7" r="43.5" fill="#b9c0ba"/></g>
<path d="M669,1257.8 H932 a4,4 0 0 1 4,4 V1349.5 a1.5,1.5 0 0 1 -1.5,1.5 H666.5 a1.5,1.5 0 0 1 -1.5,-1.5 V1261.8 a4,4 0 0 1 4,-4 z" fill="none" stroke="#333333" stroke-width="2"/>
<circle cx="711.5" cy="1300.7" r="32.5" fill="#fff" stroke="#333333" stroke-width="6"/>
<text x="711.3" y="1311.4" text-anchor="middle" font-family="'Liberation Sans', sans-serif" font-weight="bold" font-size="40" fill="#333333" textLength="41.5" lengthAdjust="spacingAndGlyphs" stroke="#333333" stroke-width="0.5">cc</text>
<circle cx="808.0" cy="1290.2" r="23.9" fill="#fff" stroke="#333333" stroke-width="4"/>
<circle cx="872.5" cy="1290.2" r="23.9" fill="#fff" stroke="#333333" stroke-width="4"/>
<circle cx="808" cy="1276.5" r="3.7" fill="#333333"/>
<path d="M801.8,1282.6 h12.4 q1,0 1,1 v10 h-3.2 v13.2 h-8 v-13.2 h-3.2 v-10 q0,-1 1,-1 z" fill="#333333"/>
<path d="M 864.0,1284.4 A 10.1,10.1 0 1 1 862.9,1294.6" fill="none" stroke="#333333" stroke-width="6.2"/>
<path d="M858.4,1286.0 L869.6,1286.0 L864.2,1292.6 Z" fill="#333333"/>
<text x="806.5" y="1345.7" text-anchor="middle" font-family="'Liberation Sans', sans-serif" font-weight="bold" font-size="20" fill="#fff" textLength="27.6" lengthAdjust="spacingAndGlyphs">BY</text>
<text x="870.5" y="1345.7" text-anchor="middle" font-family="'Liberation Sans', sans-serif" font-weight="bold" font-size="20" fill="#fff" textLength="27.3" lengthAdjust="spacingAndGlyphs">SA</text>
</g>
</svg>
</body></html>
